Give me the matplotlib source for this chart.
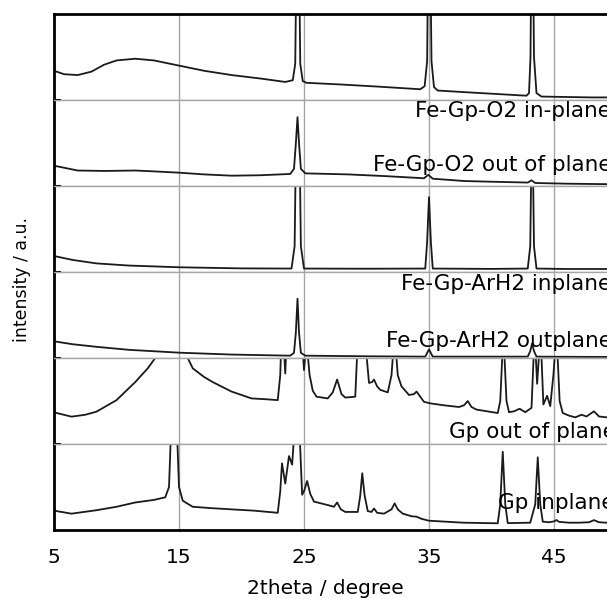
import numpy as np
import matplotlib
matplotlib.use('Agg')
from matplotlib import pyplot as plt

# 2theta / intensity pairs, one list per sample
# intensity is scaled so that 0 = bottom of its strip, 1 = top (values > 1 are clipped)
o2_in = [
    (5.0, 0.34), (5.8, 0.30), (6.9, 0.29), (8.0, 0.33), (9.0, 0.41), (10.0, 0.46),
    (11.5, 0.48), (13.0, 0.46), (15.0, 0.40), (17.0, 0.34), (19.2, 0.29), (21.5, 0.25),
    (23.5, 0.21), (24.1, 0.23), (24.3, 0.42), (24.42, 2.0), (24.58, 2.0), (24.7, 0.42),
    (24.9, 0.22), (25.2, 0.20), (28.0, 0.18), (31.0, 0.155), (34.3, 0.125), (34.65, 0.16),
    (34.85, 0.45), (34.95, 2.0), (35.08, 2.0), (35.2, 0.45), (35.4, 0.15), (35.7, 0.11),
    (38.0, 0.09), (41.0, 0.065), (42.8, 0.05), (43.0, 0.08), (43.12, 0.5), (43.2, 2.0),
    (43.3, 2.0), (43.4, 0.5), (43.6, 0.08), (44.0, 0.04), (46.0, 0.035), (48.0, 0.03),
    (50.0, 0.03),
]
o2_out = [
    (5.0, 0.236), (6.9, 0.18), (9.0, 0.175), (11.5, 0.18), (13.0, 0.17), (15.0, 0.155),
    (17.0, 0.135), (19.2, 0.12), (21.5, 0.125), (23.9, 0.14), (24.2, 0.2), (24.35, 0.5),
    (24.48, 0.80), (24.6, 0.5), (24.75, 0.2), (25.1, 0.147), (28.5, 0.135), (31.5, 0.115),
    (34.6, 0.09), (34.95, 0.13), (35.3, 0.085), (37.8, 0.058), (40.5, 0.048), (42.9, 0.04),
    (43.2, 0.066), (43.5, 0.035), (46.0, 0.027), (50.0, 0.02),
]
arh2_in = [
    (5.0, 0.186), (6.5, 0.14), (8.4, 0.10), (11.0, 0.075), (15.0, 0.055), (20.0, 0.042),
    (24.0, 0.04), (24.25, 0.3), (24.4, 2.0), (24.6, 2.0), (24.75, 0.3), (25.0, 0.04),
    (30.0, 0.038), (34.7, 0.04), (34.85, 0.35), (35.0, 0.87), (35.15, 0.35), (35.3, 0.04),
    (40.0, 0.036), (42.9, 0.04), (43.1, 0.3), (43.25, 2.0), (43.4, 0.3), (43.6, 0.04),
    (46.0, 0.035), (50.0, 0.035),
]
arh2_out = [
    (5.0, 0.194), (6.5, 0.16), (8.4, 0.13), (11.0, 0.095), (15.0, 0.062), (19.2, 0.04),
    (23.9, 0.027), (24.2, 0.06), (24.35, 0.3), (24.48, 0.69), (24.6, 0.3), (24.75, 0.06),
    (25.1, 0.027), (30.0, 0.02), (34.7, 0.016), (35.0, 0.1), (35.3, 0.016), (40.0, 0.016),
    (42.9, 0.016), (43.1, 0.08), (43.25, 0.17), (43.4, 0.08), (43.6, 0.016), (46.0, 0.014),
    (50.0, 0.012),
]
gp_out = [
    (5.0, 0.368), (6.4, 0.318), (7.5, 0.34), (8.4, 0.376), (10.0, 0.51), (11.5, 0.72),
    (12.5, 0.88), (13.1, 1.0), (14.4, 1.5), (15.7, 1.0), (16.1, 0.88), (17.0, 0.78),
    (17.7, 0.72), (19.2, 0.61), (20.8, 0.53), (22.0, 0.52), (22.9, 0.51), (23.1, 0.8),
    (23.25, 1.5), (23.5, 0.82), (23.7, 1.5), (24.5, 2.0), (24.85, 1.2), (25.0, 0.86),
    (25.2, 1.2), (25.45, 0.8), (25.7, 0.62), (26.0, 0.55), (26.9, 0.53), (27.3, 0.6),
    (27.65, 0.75), (28.0, 0.58), (28.3, 0.54), (29.1, 0.55), (29.3, 1.2), (29.6, 1.5),
    (29.9, 1.2), (30.2, 0.71), (30.45, 0.72), (30.6, 0.75), (30.85, 0.67), (31.1, 0.63),
    (31.7, 0.60), (32.0, 0.8), (32.25, 1.3), (32.5, 0.8), (32.8, 0.67), (33.4, 0.57),
    (33.8, 0.58), (34.0, 0.61), (34.3, 0.55), (34.6, 0.49), (35.2, 0.47), (36.2, 0.45),
    (37.4, 0.43), (37.8, 0.45), (38.1, 0.50), (38.4, 0.43), (38.8, 0.40), (40.5, 0.36),
    (40.7, 0.5), (40.95, 1.3), (41.2, 0.5), (41.4, 0.37), (41.8, 0.38), (42.25, 0.41),
    (42.7, 0.37), (43.2, 0.42), (43.45, 1.3), (43.65, 0.7), (43.92, 1.3), (44.15, 0.46),
    (44.45, 0.56), (44.7, 0.44), (44.95, 0.8), (45.2, 1.3), (45.45, 0.5), (45.7, 0.36),
    (46.2, 0.33), (46.7, 0.31), (47.2, 0.34), (47.6, 0.32), (48.2, 0.38), (48.6, 0.32),
    (49.2, 0.31), (50.0, 0.30),
]
gp_in = [
    (5.0, 0.225), (6.4, 0.19), (8.4, 0.23), (10.0, 0.27), (11.5, 0.32), (13.0, 0.35),
    (13.9, 0.38), (14.2, 0.5), (14.45, 1.5), (14.75, 1.5), (15.0, 0.5), (15.3, 0.34),
    (16.1, 0.27), (17.5, 0.255), (19.2, 0.24), (21.0, 0.225), (22.9, 0.20), (23.1, 0.45),
    (23.24, 0.775), (23.5, 0.54), (23.8, 0.86), (24.05, 0.76), (24.3, 1.3), (24.6, 1.3),
    (24.85, 0.41), (25.0, 0.45), (25.25, 0.57), (25.5, 0.42), (25.8, 0.33), (26.9, 0.29),
    (27.4, 0.27), (27.65, 0.32), (27.95, 0.24), (28.3, 0.21), (29.3, 0.21), (29.5, 0.4),
    (29.66, 0.66), (29.85, 0.4), (30.1, 0.22), (30.4, 0.21), (30.6, 0.25), (30.85, 0.2),
    (31.4, 0.19), (32.0, 0.24), (32.25, 0.31), (32.5, 0.24), (32.9, 0.19), (33.6, 0.16),
    (34.0, 0.155), (34.4, 0.13), (35.0, 0.108), (37.75, 0.085), (40.5, 0.078), (40.7, 0.3),
    (40.9, 0.91), (41.1, 0.3), (41.3, 0.08), (43.1, 0.085), (43.5, 0.3), (43.7, 0.845),
    (43.9, 0.3), (44.1, 0.097), (44.6, 0.09), (45.0, 0.1), (45.2, 0.116), (45.4, 0.095),
    (46.2, 0.085), (47.0, 0.085), (47.8, 0.09), (48.2, 0.115), (48.6, 0.09), (49.2, 0.085),
    (50.0, 0.09),
]

traces = [o2_in, o2_out, arh2_in, arh2_out, gp_out, gp_in]
labels = ['Fe-Gp-O2 in-plane', 'Fe-Gp-O2 out of plane', 'Fe-Gp-ArH2 inplane',
          'Fe-Gp-ArH2 outplane', 'Gp out of plane', 'Gp inplane']
# label anchor (left edge, vertical centre) in pixels
label_px = [(415, 111), (373, 165), (401, 284), (386, 341), (449, 432), (498, 503)]
xticks = [5, 15, 25, 35, 45]

W, H = 607, 599
fig = plt.figure(figsize=(W / 100, H / 100), dpi=100)

left_px, top_px, strip_h = 54, 14, 86
px_per_deg = 12.5
x_min, x_max = 5, 50
ax_w = (x_max - x_min) * px_per_deg
grid_col = '#a6a6a6'

axes = []
for i, tr in enumerate(traces):
    bot = H - (top_px + strip_h * (i + 1))
    ax = fig.add_axes([left_px / W, bot / H, ax_w / W, strip_h / H])
    xy = np.array(tr)
    ax.plot(xy[:, 0], xy[:, 1], color='#1a1a1a', lw=1.3)
    ax.set_xlim(x_min, x_max)
    ax.set_ylim(0, 1)
    ax.set_xticks(xticks)
    ax.grid(axis='x', color=grid_col, lw=1)
    ax.set_axisbelow(True)
    ax.spines['right'].set_visible(False)
    ax.spines['left'].set_linewidth(2)
    ax.spines['top'].set_color('black' if i == 0 else grid_col)
    ax.spines['top'].set_linewidth(2 if i == 0 else 1)
    ax.spines['bottom'].set_color('black' if i == 5 else grid_col)
    ax.spines['bottom'].set_linewidth(2 if i == 5 else 1)
    if i > 0:
        ax.set_yticks([1])
    else:
        ax.set_yticks([])
    ax.tick_params(axis='y', direction='in', length=5, width=1.5, labelleft=False)
    if i < 5:
        ax.tick_params(axis='x', length=0, labelbottom=False)
    else:
        ax.tick_params(axis='x', length=0, pad=13, labelsize=14.5)
    axes.append(ax)

for (px, py), lab in zip(label_px, labels):
    fig.text(px / W, 1 - py / H, lab, ha='left', va='center', fontsize=15.5, zorder=5)

fig.text(22 / W, 1 - 279 / H, 'intensity / a.u.', rotation=90, ha='center', va='center', fontsize=12.5)
fig.text(325 / W, 1 - 588 / H, '2theta / degree', ha='center', va='center', fontsize=14.5)

fig.savefig('out.png', dpi=100)
